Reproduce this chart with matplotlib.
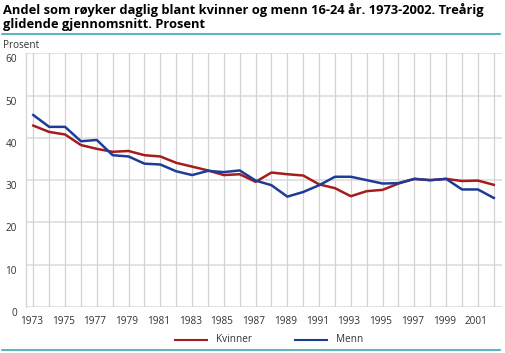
import matplotlib
matplotlib.use("Agg")
import matplotlib.pyplot as plt
from matplotlib.lines import Line2D
from matplotlib.transforms import ScaledTranslation

plt.rcParams["font.family"] = ["Open Sans", "DejaVu Sans"]

# Three-year moving average, share of daily smokers aged 16-24 (percent)
years = list(range(1973, 2003))
kvinner = [42.9, 41.4, 40.8, 38.3, 37.4, 36.7, 36.9, 35.9, 35.6, 34.1,
           33.2, 32.3, 31.2, 31.4, 29.6, 31.8, 31.4, 31.1, 29.0, 28.1,
           26.2, 27.4, 27.7, 29.2, 30.3, 30.0, 30.3, 29.8, 29.9, 28.9]
menn = [45.4, 42.6, 42.6, 39.2, 39.5, 35.9, 35.6, 33.9, 33.7, 32.1,
        31.2, 32.2, 31.9, 32.3, 29.9, 28.8, 26.1, 27.2, 28.8, 30.8,
        30.8, 30.0, 29.2, 29.3, 30.3, 30.0, 30.3, 27.8, 27.8, 25.8]
xtick_years = list(range(1973, 2002, 2))
yticks = [0, 10, 20, 30, 40, 50, 60]

RED = "#a51c1c"
BLUE = "#1d3c96"
TEAL = "#3aa9b0"
GRID_H = "#dedede"
GRID_V = "#d2d2d2"
TEXT = "#333333"

W, H = 506, 353
fig = plt.figure(figsize=(W / 100, H / 100), dpi=100)
ax = fig.add_axes([26 / W, 1 - 307 / H, (501.7 - 26) / W, (307 - 53.3) / H])

ax.plot(years, kvinner, color=RED, lw=1.8, zorder=3)
ax.plot(years, menn, color=BLUE, lw=1.8, zorder=3)

ax.set_xlim(1972.54, 2002.5)
ax.set_ylim(0, 60)

for y in yticks:
    ax.axhline(y, color=GRID_H, lw=1.2, zorder=1)
for yr in years:
    ax.axvline(yr, color=GRID_V, lw=0.9, zorder=1)

for side in ["top", "right", "bottom"]:
    ax.spines[side].set_visible(False)
ax.spines["left"].set_color(GRID_V)
ax.spines["left"].set_linewidth(0.9)

ax.set_yticks(yticks)
ax.set_yticklabels([str(v) for v in yticks], va="top")
ax.set_xticks(xtick_years)
ax.set_xticklabels([str(v) for v in xtick_years], ha="center")
ax.tick_params(axis="both", length=0, labelsize=7.2, colors=TEXT)
ax.tick_params(axis="y", pad=6.5)
ax.tick_params(axis="x", pad=6.5)
for lbl in ax.get_yticklabels():
    lbl.set_transform(lbl.get_transform() + ScaledTranslation(0, -1 / 100, fig.dpi_scale_trans))
for lbl in ax.get_xticklabels():
    lbl.set_transform(lbl.get_transform() + ScaledTranslation(-2 / 100, 0, fig.dpi_scale_trans))

# Title and header
fig.text(3 / W, 1 - 14 / H, "Andel som røyker daglig blant kvinner og menn 16-24 år. 1973-2002. Treårig",
         fontsize=9.3, fontweight="bold", color="black", va="baseline")
fig.text(3 / W, 1 - 27.7 / H, "glidende gjennomsnitt. Prosent",
         fontsize=9.3, fontweight="bold", color="black", va="baseline")
fig.add_artist(Line2D([2 / W, 500 / W], [1 - 33.5 / H] * 2, color=TEAL, lw=1.2))
fig.text(3 / W, 1 - 47.7 / H, "Prosent", fontsize=7.2, color=TEXT, va="baseline")

# Legend
fig.add_artist(Line2D([175 / W, 207 / W], [1 - 340 / H] * 2, color=RED, lw=1.5))
fig.text(216 / W, 1 - 340 / H, "Kvinner", fontsize=7.2, color=TEXT, va="center")
fig.add_artist(Line2D([295 / W, 327 / W], [1 - 340 / H] * 2, color=BLUE, lw=1.5))
fig.text(336 / W, 1 - 340 / H, "Menn", fontsize=7.2, color=TEXT, va="center")
fig.add_artist(Line2D([2 / W, 500 / W], [1 - 350 / H] * 2, color=TEAL, lw=1.2))

fig.savefig("out.png", dpi=100)
